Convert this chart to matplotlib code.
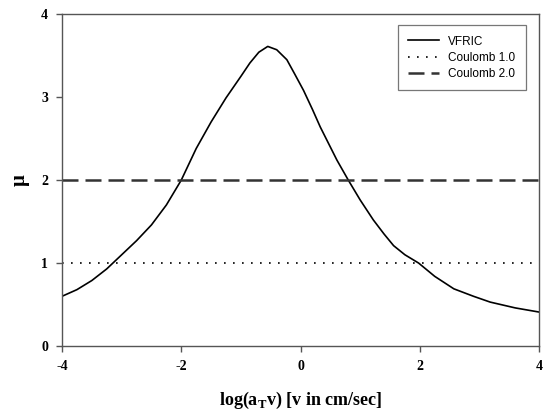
import matplotlib
matplotlib.use("Agg")
import matplotlib.pyplot as plt

plt.rcParams["axes.unicode_minus"] = False
plt.rcParams["mathtext.fontset"] = "custom"
plt.rcParams["mathtext.rm"] = "Liberation Serif"
plt.rcParams["mathtext.bf"] = "Liberation Serif:bold"

# VFRIC curve
log_v = [-4.0, -3.75, -3.5, -3.25, -3.0, -2.75, -2.5, -2.25, -2.0, -1.75,
         -1.5, -1.25, -1.0, -0.85, -0.7, -0.55, -0.4, -0.23, -0.1, 0.05,
         0.2, 0.33, 0.47, 0.61, 0.8, 1.0, 1.22, 1.4, 1.56, 1.75,
         1.98, 2.25, 2.57, 2.9, 3.18, 3.6, 4.0]
mu_vfric = [0.60, 0.68, 0.79, 0.93, 1.10, 1.27, 1.46, 1.70, 2.00, 2.38,
            2.70, 2.99, 3.25, 3.41, 3.54, 3.61, 3.57, 3.45, 3.28, 3.08,
            2.85, 2.64, 2.44, 2.24, 2.00, 1.76, 1.52, 1.35, 1.21, 1.10,
            1.00, 0.84, 0.69, 0.60, 0.53, 0.46, 0.41]

x_range = [-4, 4]
coulomb1 = [1.0, 1.0]
coulomb2 = [2.0, 2.0]

xticks = [-4, -2, 0, 2, 4]
yticks = [0, 1, 2, 3, 4]

fig = plt.figure(figsize=(5.44, 4.13), dpi=100)
ax = fig.add_axes([0.114, 0.162, 0.877, 0.804])

ax.plot(log_v, mu_vfric, color="black", lw=1.2, label="VFRIC")
ax.plot(x_range, coulomb1, color="black", lw=1.2, linestyle=(0, (1, 4.4)),
        label="Coulomb 1.0")
ax.plot(x_range, coulomb2, color="#333333", lw=1.8, linestyle=(0, (6.4, 2.8)),
        label="Coulomb 2.0")

ax.set_xlim(-4, 4)
ax.set_ylim(0, 4)
ax.set_xticks(xticks)
ax.set_yticks(yticks)

for s in ax.spines.values():
    s.set_color("#555555")
    s.set_linewidth(1.0)

ax.tick_params(direction="out", length=4, color="#555555", width=1.0)
ax.tick_params(axis="x", pad=6)
ax.tick_params(axis="y", pad=6)
for lab in ax.get_xticklabels() + ax.get_yticklabels():
    lab.set_fontfamily("Liberation Serif")
    lab.set_fontweight("bold")
    lab.set_fontsize(10)

ax.set_xlabel(r"log(a$_\mathbf{T}$v) [v in cm/sec]", fontfamily="Liberation Serif",
              fontweight="bold", fontsize=13, labelpad=12)
ax.set_ylabel("μ", fontfamily="Liberation Serif", fontweight="bold",
              fontsize=15, rotation=90, labelpad=8)

leg = ax.legend(loc="upper right", bbox_to_anchor=(0.985, 0.985),
                prop={"family": "Liberation Sans", "size": 8.5},
                frameon=True, fancybox=False, edgecolor="#555555",
                handlelength=2.6, borderpad=0.9, labelspacing=0.35)
leg.get_frame().set_linewidth(0.9)

fig.savefig("out.png", dpi=100)
